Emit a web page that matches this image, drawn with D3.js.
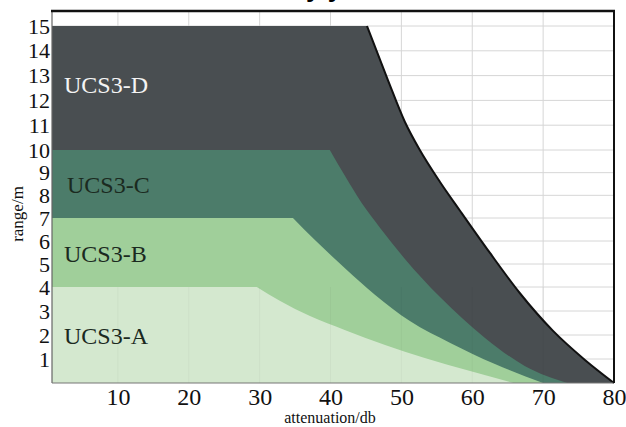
<!DOCTYPE html>
<html>
<head>
<meta charset="utf-8">
<script src="https://cdn.jsdelivr.net/npm/d3@7"></script>
<style>
  body { margin: 0; background: #fff; }
  svg text { font-family: "Liberation Serif", "DejaVu Serif", serif; }
</style>
</head>
<body>
<div id="chart"></div>
<script>
// Constants
const width = 626;
const height = 427;
const margin = { top: 11, right: 12, bottom: 44, left: 52 };

// Data
const bandNames = ["UCS3-A", "UCS3-B", "UCS3-C", "UCS3-D"];
const bandLevels = [4, 7, 10, 15];
const curveA = [[29.6, 4], [32.9, 3.42], [37.1, 2.79], [42.0, 2.21], [47.7, 1.58], [53.3, 1.04], [59.7, 0.5], [65.8, 0]];
const curveB = [[34.7, 7], [37.8, 6.04], [42.0, 4.83], [46.3, 3.67], [51.2, 2.58], [56.9, 1.67], [63.2, 0.79], [70, 0]];
const curveC = [[39.9, 10], [42.05, 8.85], [44.4, 7.66], [47.0, 6.57], [50.5, 5.22], [55.45, 3.58], [61.8, 1.88], [67.4, 0.71], [73.4, 0]];
const curveD = [[45.15, 15], [48.1, 12.82], [50.5, 11.13], [52.6, 10], [55.45, 8.59], [58.3, 7.31], [62.5, 5.48], [66.7, 3.75], [71.4, 2.17], [75.9, 0.96], [80, 0]];
const bandCurves = [curveA, curveB, curveC, curveD];
const xTicks = [10, 20, 30, 40, 50, 60, 70, 80];
const yTicks = [1, 2, 3, 4, 5, 6, 7, 8, 9, 10, 11, 12, 13, 14, 15];

const COLORS = ["#d4e8cf", "#a0cf9a", "#4c7c6a", "#494e51"];
const LABEL_COLORS = ["#1b2a1f", "#1b2a1f", "#1b2a1f", "#f4f4f4"];

// Scales (the source picture is not quite linear in y, so piecewise)
const x = d3.scaleLinear().domain([0.7, 80]).range([margin.left, width - margin.right]);
const y = d3.scaleLinear().domain([0, 4, 7, 10, 15]).range([383, 287, 218, 150, 26]);

const svg = d3.select("#chart")
  .append("svg")
  .attr("width", width)
  .attr("height", height);

// cut-off title (only descenders visible)
svg.append("text")
  .attr("x", 306)
  .attr("y", -3)
  .style("font-family", "Liberation Sans, Arial, sans-serif")
  .attr("font-weight", "bold")
  .attr("font-size", "26px")
  .attr("fill", "#000")
  .text("y y");

// grid
const grid = svg.append("g").attr("stroke", "#d6d6d6").attr("stroke-width", 1);
grid.selectAll(".vg")
  .data(xTicks.slice(0, -1))
  .join("line")
  .attr("x1", d => x(d)).attr("x2", d => x(d))
  .attr("y1", margin.top).attr("y2", y(0));
grid.selectAll(".hg")
  .data(yTicks)
  .join("line")
  .attr("x1", x(0.7)).attr("x2", x(80))
  .attr("y1", d => y(d)).attr("y2", d => y(d));

// band shapes: flat top then a falling curve
const curveLine = d3.line()
  .x(d => x(d[0]))
  .y(d => y(d[1]))
  .curve(d3.curveMonotoneX);

function bandPath(i) {
  const pts = bandCurves[i];
  const last = pts[pts.length - 1];
  return `M${x(0.7)},${y(0)}L${x(0.7)},${y(bandLevels[i])}` +
    curveLine(pts).replace(/^M/, "L") +
    `L${x(last[0])},${y(0)}Z`;
}

const order = [3, 2, 1, 0];
svg.selectAll(".band")
  .data(order)
  .join("path")
  .attr("class", "band")
  .attr("d", d => bandPath(d))
  .attr("fill", d => COLORS[d]);

// faint grid showing through the light band
svg.append("g")
  .attr("stroke", "#000")
  .attr("stroke-opacity", 0.035)
  .selectAll("line")
  .data(xTicks.slice(0, -1))
  .join("line")
  .attr("x1", d => x(d)).attr("x2", d => x(d))
  .attr("y1", y(4)).attr("y2", y(0));

// dark edge line on the outer curve
svg.append("path")
  .attr("d", curveLine(curveD))
  .attr("fill", "none")
  .attr("stroke", "#111")
  .attr("stroke-width", 2);

// band labels
svg.selectAll(".band-label")
  .data(order)
  .join("text")
  .attr("class", "band-label")
  .attr("x", d => d === 2 ? 67 : 64)
  .attr("y", d => (y(bandLevels[d]) + y(d === 0 ? 0 : bandLevels[d - 1])) / 2 + (d === 3 ? 5 : 9))
  .attr("font-size", "24px")
  .attr("fill", d => LABEL_COLORS[d])
  .text(d => bandNames[d]);

// frame
svg.append("line")
  .attr("x1", x(0.7)).attr("x2", x(0.7))
  .attr("y1", margin.top).attr("y2", y(0))
  .attr("stroke", "#666").attr("stroke-width", 1.2);
svg.append("line")
  .attr("x1", x(0.7)).attr("x2", x(80))
  .attr("y1", y(0)).attr("y2", y(0))
  .attr("stroke", "#777").attr("stroke-width", 1.2);
svg.append("line")
  .attr("x1", x(0.7) - 1).attr("x2", x(80) + 1)
  .attr("y1", margin.top).attr("y2", margin.top)
  .attr("stroke", "#111").attr("stroke-width", 2.5);
svg.append("line")
  .attr("x1", x(80)).attr("x2", x(80))
  .attr("y1", margin.top).attr("y2", y(0))
  .attr("stroke", "#111").attr("stroke-width", 2);

// axes
const xAxis = svg.append("g")
  .attr("transform", `translate(0,${y(0)})`)
  .call(d3.axisBottom(x).tickValues(xTicks).tickSize(0).tickPadding(5));
xAxis.select(".domain").remove();
xAxis.selectAll("text")
  .attr("font-size", "24px")
  .style("font-family", "Liberation Serif, serif")
  .attr("fill", "#111");

const yAxis = svg.append("g")
  .attr("transform", `translate(${x(0.7)},0)`)
  .call(d3.axisLeft(y).tickValues(yTicks).tickSize(0).tickPadding(2));
yAxis.select(".domain").remove();
yAxis.selectAll("text")
  .attr("font-size", "22px")
  .style("font-family", "Liberation Serif, serif")
  .attr("fill", "#111");

// axis titles
svg.append("text")
  .attr("x", 330)
  .attr("y", 423)
  .attr("text-anchor", "middle")
  .attr("font-size", "16px")
  .attr("fill", "#111")
  .text("attenuation/db");

svg.append("text")
  .attr("transform", "translate(23,214) rotate(-90)")
  .attr("text-anchor", "middle")
  .attr("font-size", "17px")
  .attr("fill", "#111")
  .text("range/m");
</script>
</body>
</html>
